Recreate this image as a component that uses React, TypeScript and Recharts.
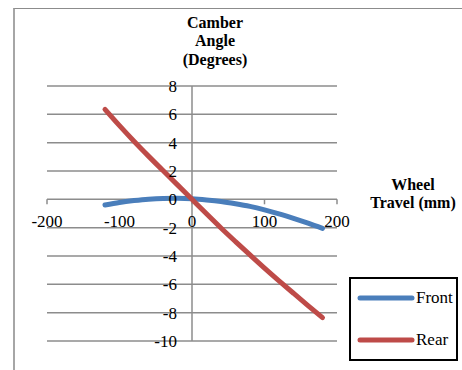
import { LineChart, Line, XAxis, YAxis, CartesianGrid, ReferenceLine, ReferenceDot, Legend } from 'recharts';

const travel = [-120, -100, -80, -60, -40, -20, 0, 20, 40, 60, 80, 100, 120, 140, 160, 180];
const front = [-0.4, -0.22, -0.09, 0.01, 0.06, 0.07, 0.04, -0.04, -0.15, -0.31, -0.5, -0.74, -1.02, -1.34, -1.68, -2.05];
const rear = [6.35, 5.2, 4.1, 3.05, 2.03, 1.02, 0, -1.02, -2.02, -2.98, -3.92, -4.85, -5.75, -6.63, -7.5, -8.35];
const xTicks = [-200, -100, 0, 100, 200];
const yTicks = [-10, -8, -6, -4, -2, 0, 2, 4, 6, 8];

const data = travel.map((t, i) => ({ travel: t, front: front[i], rear: rear[i] }));

const FONT = '"Liberation Serif", "Times New Roman", serif';
const GRID = '#8c8c8c';

function renderLegend(props: any) {
  const items = props.payload || [];
  return (
    <div style={{ position: 'relative', width: '100%', height: '100%' }}>
      {items.map((entry: any, i: number) => (
        <div
          key={entry.value}
          style={{
            position: 'absolute',
            left: 6,
            top: 9 + i * 42,
            height: 20,
            display: 'flex',
            alignItems: 'center',
          }}
        >
          <svg width={58} height={8} style={{ display: 'block' }}>
            <line x1={3} y1={4} x2={55} y2={4} stroke={entry.color} strokeWidth={5} strokeLinecap="round" />
          </svg>
          <span style={{ fontFamily: FONT, fontSize: 17, color: '#000', marginLeft: 1 }}>{entry.value}</span>
        </div>
      ))}
    </div>
  );
}

export default function App() {
  return (
    <div style={{ position: 'absolute', left: 0, top: 0, width: 462, height: 370, overflow: 'hidden', background: '#fff' }}>
      <div
        style={{
          position: 'absolute',
          left: 13,
          top: 8,
          width: 520,
          height: 420,
          borderLeft: '2px solid #a6a6a6',
          borderTop: '1px solid #8c8c8c',
        }}
      />
      <div
        style={{
          position: 'absolute',
          left: 155,
          top: 13.5,
          width: 120,
          textAlign: 'center',
          fontFamily: FONT,
          fontWeight: 'bold',
          fontSize: 16,
          lineHeight: '18.5px',
        }}
      >
        Camber
        <br />
        Angle
        <br />
        (Degrees)
      </div>
      <div
        style={{
          position: 'absolute',
          left: 358,
          top: 175.5,
          width: 110,
          textAlign: 'center',
          fontFamily: FONT,
          fontWeight: 'bold',
          fontSize: 16,
          lineHeight: '18.5px',
          whiteSpace: 'nowrap',
        }}
      >
        Wheel
        <br />
        Travel (mm)
      </div>
      <div style={{ position: 'absolute', left: 0, top: 0 }}>
        <LineChart width={462} height={370} data={data} margin={{ top: 86, right: 125, bottom: 29, left: 47 }}>
          <CartesianGrid vertical={false} stroke={GRID} strokeWidth={1.5} />
          <XAxis dataKey="travel" type="number" domain={[-200, 200]} ticks={xTicks} hide />
          <YAxis type="number" domain={[-10, 8]} ticks={yTicks} hide />
          <ReferenceLine x={0} stroke={GRID} strokeWidth={1.5} />
          {xTicks.map((v) => (
            <ReferenceLine
              key={'xt' + v}
              segment={[{ x: v, y: 0 }, { x: v, y: -0.35 }]}
              stroke={GRID}
              strokeWidth={1.5}
              label={{ value: String(v), position: 'bottom', offset: 11, fill: '#000', fontSize: 17, fontFamily: FONT }}
            />
          ))}
          {yTicks.map((v) => (
            <ReferenceDot
              key={'yt' + v}
              x={0}
              y={v}
              r={0}
              fill="none"
              stroke="none"
              label={{ value: String(v), position: 'left', offset: 15, fill: '#000', fontSize: 17, fontFamily: FONT }}
            />
          ))}
          <Line
            name="Front"
            dataKey="front"
            type="monotone"
            stroke="#4a7ebb"
            strokeWidth={5}
            strokeLinecap="round"
            dot={false}
            isAnimationActive={false}
          />
          <Line
            name="Rear"
            dataKey="rear"
            type="monotone"
            stroke="#be4b48"
            strokeWidth={5}
            strokeLinecap="round"
            dot={false}
            isAnimationActive={false}
          />
          <Legend
            layout="vertical"
            align="center"
            verticalAlign="middle"
            content={renderLegend}
            wrapperStyle={{
              left: 349,
              top: 277,
              width: 109,
              height: 84,
              border: '2px solid #000',
              boxSizing: 'border-box',
              background: '#fff',
            }}
          />
        </LineChart>
      </div>
    </div>
  );
}
